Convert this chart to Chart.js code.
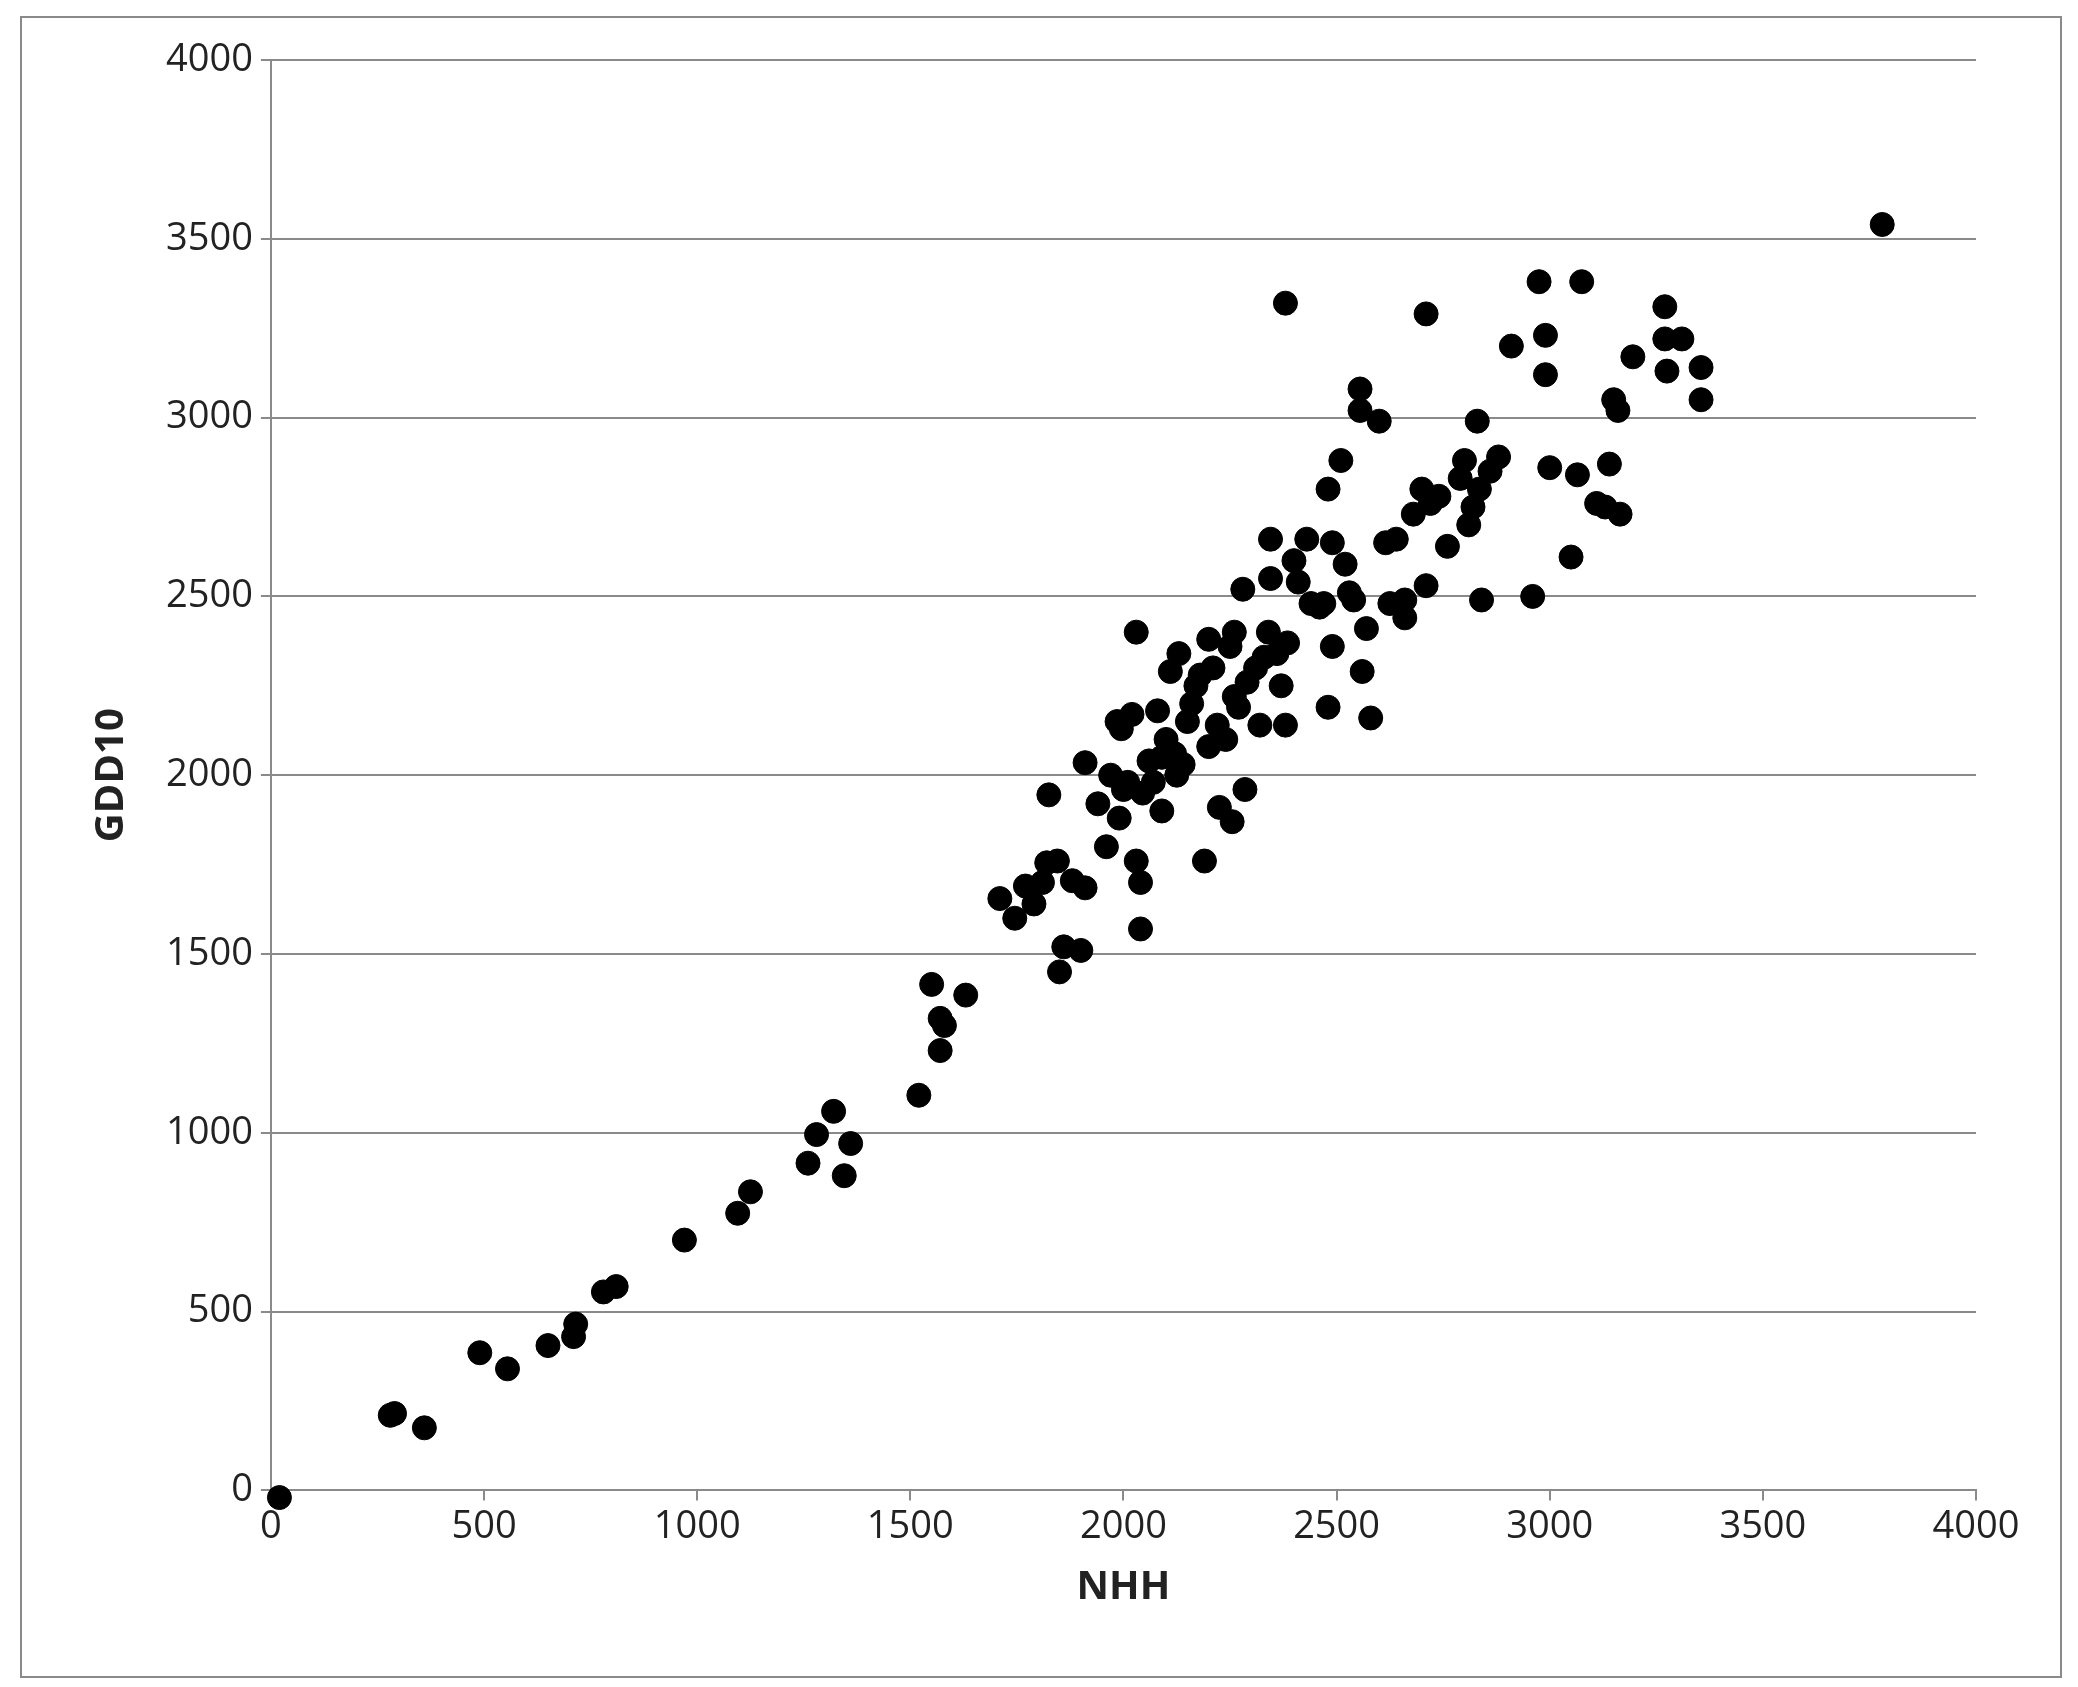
<!DOCTYPE html>
<html>
<head>
<meta charset="utf-8">
<script src="https://cdn.jsdelivr.net/npm/chart.js@4/dist/chart.umd.min.js"></script>
<style>
  body { margin: 0; background: #fff; }
  #frame { position: absolute; left: 20px; top: 16px; width: 2038px; height: 1658px; border: 2px solid #8a8a8a; }
  #wrap { position: absolute; left: 0; top: 0; width: 2038px; height: 1658px; }
</style>
</head>
<body>
<div id="frame"><div id="wrap"><canvas id="c"></canvas></div></div>
<script>
// NHH (x) and GDD10 (y)
const nhh = [20,280,290,360,490,555,650,710,715,780,810,970,1095,1125,1260,1280,1320,1345,1360,1520,
  1550,1570,1580,1570,1630,1710,1745,1770,1790,1810,1820,1825,1845,1850,1860,1880,1900,1910,1910,1940,
  1960,1970,1985,1990,1995,2000,2010,2020,2030,2030,2040,2040,2045,2060,2070,2080,2090,2090,2100,2110,
  2120,2125,2130,2140,2150,2160,2170,2180,2190,2200,2200,2210,2220,2225,2240,2250,2255,2260,2260,2270,
  2280,2285,2290,2310,2320,2330,2340,2345,2345,2360,2370,2380,2380,2385,2400,2410,2430,2440,2460,2470,
  2480,2480,2490,2490,2510,2520,2530,2540,2555,2555,2560,2570,2580,2600,2615,2625,2640,2660,2660,2680,
  2700,2710,2710,2720,2740,2760,2790,2800,2810,2820,2830,2835,2840,2860,2880,2910,2960,2975,2990,2990,
  3000,3050,3065,3075,3110,3130,3140,3150,3160,3165,3195,3270,3270,3275,3310,3355,3355,3780];
const gdd10 = [-20,210,215,175,385,340,405,430,465,555,570,700,775,835,915,995,1060,880,970,1105,
  1415,1320,1300,1230,1385,1655,1600,1690,1640,1700,1755,1945,1760,1450,1520,1705,1510,1685,2035,1920,
  1800,2000,2150,1880,2130,1960,1980,2170,2400,1760,1700,1570,1950,2040,1980,2180,1900,2050,2100,2290,
  2060,2000,2340,2030,2150,2200,2250,2280,1760,2080,2380,2300,2140,1910,2100,2360,1870,2400,2220,2190,
  2520,1960,2260,2300,2140,2330,2400,2550,2660,2340,2250,2140,3320,2370,2600,2540,2660,2480,2470,2480,
  2190,2800,2360,2650,2880,2590,2510,2490,3080,3020,2290,2410,2160,2990,2650,2480,2660,2440,2490,2730,
  2800,2530,3290,2760,2780,2640,2830,2880,2700,2750,2990,2800,2490,2850,2890,3200,2500,3380,3230,3120,
  2860,2610,2840,3380,2760,2750,2870,3050,3020,2730,3170,3310,3220,3130,3220,3140,3050,3540];
const xTitle = 'NHH';
const yTitle = 'GDD10';

const points = nhh.map((x, i) => ({ x: x, y: gdd10[i] }));
const font = { family: 'Open Sans, Liberation Sans', size: 38 };
const titleFont = { family: 'Open Sans, Liberation Sans', size: 40, weight: 'bold' };
const plain = v => String(v);

new Chart(document.getElementById('c'), {
  type: 'scatter',
  data: { datasets: [{ data: points, backgroundColor: '#000', borderColor: '#000', pointRadius: 12, pointHoverRadius: 12, clip: false }] },
  options: {
    responsive: true, maintainAspectRatio: false, animation: false,
    layout: { padding: { left: 62, right: 84, top: 42, bottom: 60 } },
    plugins: { legend: { display: false }, tooltip: { enabled: false } },
    scales: {
      x: {
        type: 'linear', min: 0, max: 4000,
        ticks: { stepSize: 500, color: '#222', font: font, padding: 4, callback: plain },
        grid: { drawOnChartArea: false, color: '#8a8a8a', lineWidth: 2, tickLength: 10 },
        border: { color: '#8a8a8a', width: 2 },
        title: { display: true, text: xTitle, color: '#222', font: titleFont, padding: { top: 10 } }
      },
      y: {
        min: 0, max: 4000,
        ticks: { stepSize: 500, color: '#222', font: font, padding: 8, callback: plain },
        grid: { color: '#8a8a8a', lineWidth: 2, tickLength: 10 },
        border: { color: '#8a8a8a', width: 2 },
        title: { display: true, text: yTitle, color: '#222', font: titleFont, padding: { bottom: 22 } }
      }
    }
  }
});
</script>
</body>
</html>
